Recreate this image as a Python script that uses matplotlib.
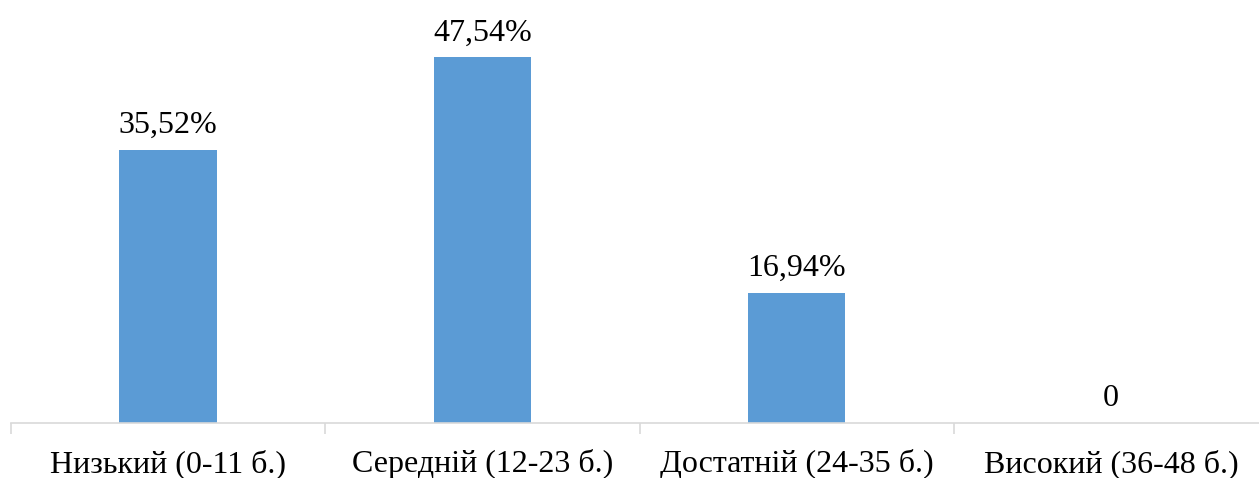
import matplotlib
matplotlib.use('Agg')
from matplotlib import pyplot as plt

categories = ['Низький (0-11 б.)', 'Середній (12-23 б.)', 'Достатній (24-35 б.)', 'Високий (36-48 б.)']
values = [35.52, 47.54, 16.94, 0]
labels = ['35,52%', '47,54%', '16,94%', '0']

plt.rcParams['font.family'] = ['Liberation Serif', 'DejaVu Serif']

fig = plt.figure(figsize=(12.59, 4.78), dpi=100)
ax = fig.add_axes([11/1259, 55/478, 1257/1259, 423/478])

x = range(len(categories))
bars = ax.bar(x, values, width=0.31, color='#5B9BD5')
for b, lab in zip(bars, labels):
    ax.annotate(lab, (b.get_x() + b.get_width()/2, b.get_height()),
                xytext=(0, 7), textcoords='offset points',
                ha='center', va='bottom', fontsize=23)

ax.set_xlim(-0.5, len(categories) - 0.5)
ax.set_ylim(0, 55)
ax.set_xticks(list(x))
ax.set_xticklabels(categories, fontsize=23)
ax.set_xticks([i - 0.5 for i in range(len(categories) + 1)], minor=True)
ax.tick_params(axis='x', which='major', length=0, pad=19)
ax.tick_params(axis='x', which='minor', length=8, color='#D9D9D9', width=1.2)
ax.set_yticks([])
for s in ['top', 'right', 'left']:
    ax.spines[s].set_visible(False)
ax.spines['bottom'].set_color('#D9D9D9')
ax.spines['bottom'].set_linewidth(1.2)

fig.savefig('out.png', dpi=100)
